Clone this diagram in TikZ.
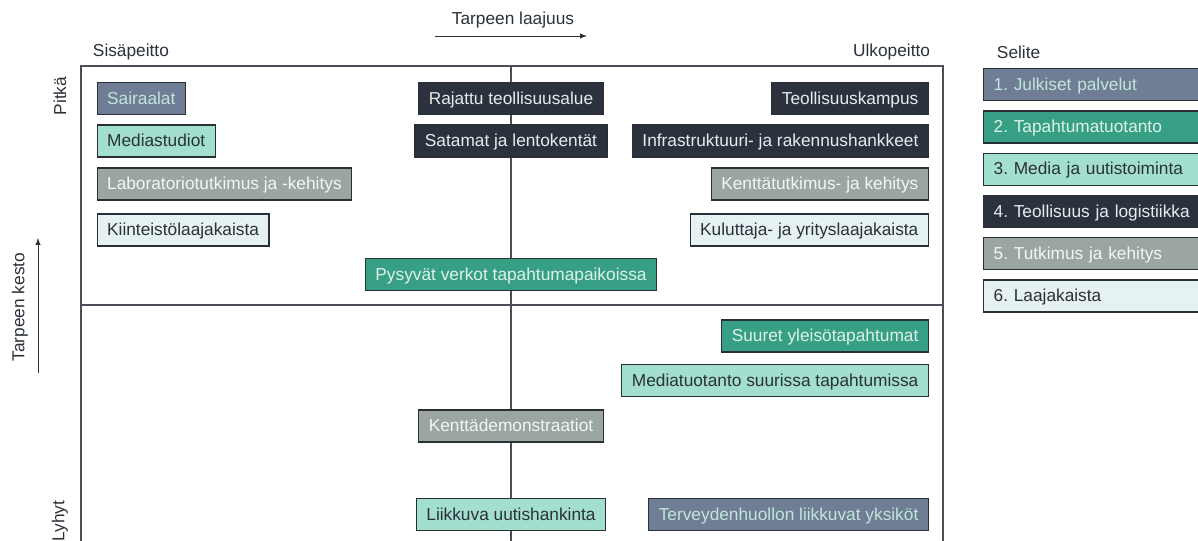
\documentclass[tikz,border=0pt]{standalone}
\usepackage{fontspec}
\setmainfont{Liberation Sans}
\usetikzlibrary{arrows,positioning}
\frenchspacing

\definecolor{reuna}{HTML}{2A2F36}
\definecolor{viiva}{HTML}{4A4F57}
\definecolor{teksti}{HTML}{2B313A}
\definecolor{julkT}{HTML}{6F7D95}
\definecolor{julkV}{HTML}{C0E6DA}
\definecolor{tapT}{HTML}{37A084}
\definecolor{tapV}{HTML}{DDF1EA}
\definecolor{medT}{HTML}{A3DFCE}
\definecolor{teoT}{HTML}{2B323E}
\definecolor{teoV}{HTML}{E6ECEC}
\definecolor{tutT}{HTML}{9BA5A1}
\definecolor{tutV}{HTML}{F4F6F6}
\definecolor{laaT}{HTML}{E6F1F1}

\begin{document}
\begin{tikzpicture}[x=0.025cm, y=-0.025cm, >=latex, node distance=0.225cm,
	font=\fontsize{12.3}{14}\selectfont, text=teksti]
	\tikzstyle{box} = [draw=reuna, line width=0.9pt, minimum height=0.8cm, inner xsep=0.25cm, inner ysep=0pt, text height=0.85em, text depth=0.05em];
	\tikzstyle{julk} = [box, fill=julkT, text=julkV];
	\tikzstyle{tap} = [box, fill=tapT, text=tapV];
	\tikzstyle{med} = [box, fill=medT, text=teksti];
	\tikzstyle{teo} = [box, fill=teoT, text=teoV];
	\tikzstyle{tut} = [box, fill=tutT, text=tutV];
	\tikzstyle{laa} = [box, fill=laaT, text=teksti];
	\tikzstyle{selite} = [text width=6cm, align=left];
	\tikzstyle{kehys} = [draw=viiva, line width=0.75pt];
	\tikzstyle{akseli} = [->, draw=teksti, line width=0.7pt];

	\useasboundingbox (0,0) rectangle (1198,540);
	\clip (0,0) rectangle (1198,540);

	% kehys ja neljannekset
	\draw [kehys] (81,66) rectangle (943,600);
	\draw [kehys] (511,66) -- (511,600);
	\draw [kehys] (81,305) -- (943,305);

	% akselit
	\node (laajuus) at (513,20) {Tarpeen laajuus};
	\coordinate (laajuus_a) at (435,36);
	\coordinate (laajuus_b) at (587,36);
	\draw [akseli] (laajuus_a) -- (laajuus_b);

	\node (kesto) [rotate=90] at (20,307) {Tarpeen kesto};
	\coordinate (kesto_a) at (38,373);
	\coordinate (kesto_b) at (38,238);
	\draw [akseli] (kesto_a) -- (kesto_b);

	\node (sisa) [anchor=west] at (88,52) {Sisäpeitto};
	\node (ulko) [anchor=east] at (935,52) {Ulkopeitto};
	\node (pitka) [rotate=90] at (60,96) {Pitkä};
	\node (lyhyt) [rotate=90] at (60,521) {Lyhyt};

	% vasen sarake
	\node [julk] (sairaalat) [anchor=west] at (96.5,98.5) {Sairaalat};
	\node [med] (studiot) [anchor=west] at (96.5,141) {Mediastudiot};
	\node [tut] (labra) [anchor=west] at (96.5,184) {Laboratoriotutkimus ja -kehitys};
	\node [laa] (kiinteisto) [anchor=west] at (96.5,230) {Kiinteistölaajakaista};

	% keskisarake
	\node [teo] (rajattu) at (511,98.5) {Rajattu teollisuusalue};
	\node [teo] (satamat) at (511,141) {Satamat ja lentokentät};
	\node [tap] (pysyvat) at (511,274.5) {Pysyvät verkot tapahtumapaikoissa};
	\node [tut] (demot) at (511,426) {Kenttädemonstraatiot};
	\node [med] (uutis) at (511,514.5) {Liikkuva uutishankinta};

	% oikea sarake
	\node [teo] (kampus) [anchor=east] at (929,98.5) {Teollisuuskampus};
	\node [teo] (infra) [anchor=east] at (929,141) {Infrastruktuuri- ja rakennushankkeet};
	\node [tut] (kentta) [anchor=east] at (929,184) {Kenttätutkimus- ja kehitys};
	\node [laa] (kuluttaja) [anchor=east] at (929,230) {Kuluttaja- ja yrityslaajakaista};
	\node [tap] (yleiso) [anchor=east] at (929,336) {Suuret yleisötapahtumat};
	\node [med] (mediatuot) [anchor=east] at (929,380.5) {Mediatuotanto suurissa tapahtumissa};
	\node [julk] (terveys) [anchor=east] at (929,514.5) {Terveydenhuollon liikkuvat yksiköt};

	% selite
	\node (selite) [anchor=west] at (992,52) {Selite};
	\node [julk, selite] (s1) [anchor=north west] at (983,68) {1. Julkiset palvelut};
	\node [tap, selite] (s2) [below=of s1] {2. Tapahtumatuotanto};
	\node [med, selite] (s3) [below=of s2] {3. Media ja uutistoiminta};
	\node [teo, selite] (s4) [below=of s3] {4. Teollisuus ja logistiikka};
	\node [tut, selite] (s5) [below=of s4] {5. Tutkimus ja kehitys};
	\node [laa, selite] (s6) [below=of s5] {6. Laajakaista};
\end{tikzpicture}
\end{document}
